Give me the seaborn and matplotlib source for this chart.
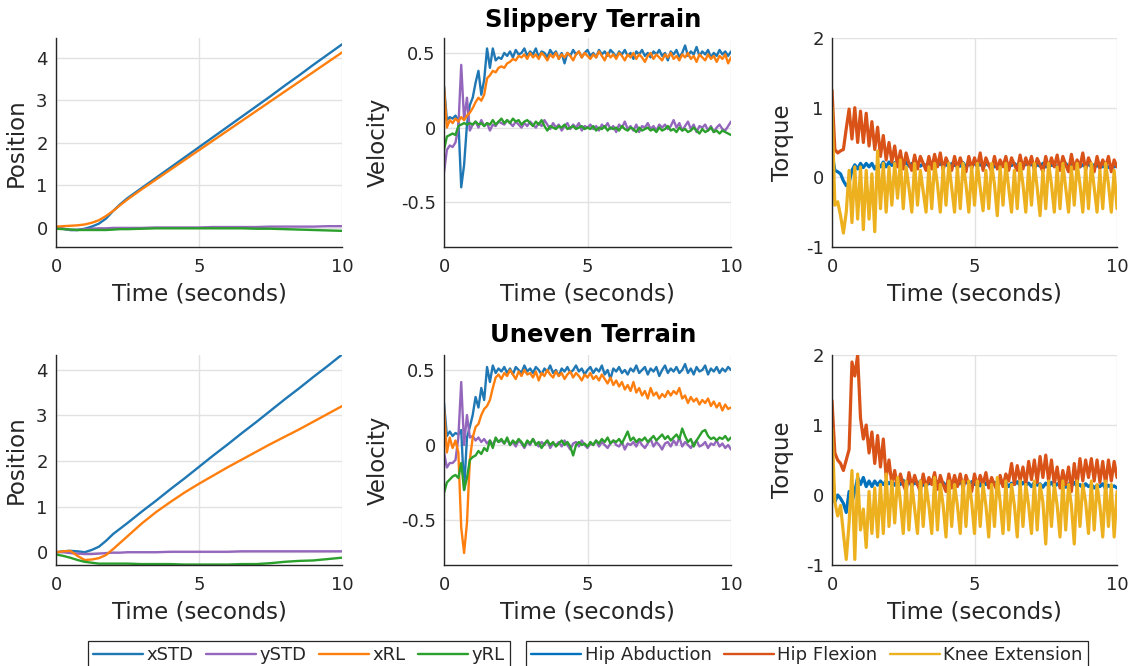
import numpy as np
import matplotlib
matplotlib.use("Agg")
import matplotlib.pyplot as plt
import seaborn as sns
from matplotlib.lines import Line2D

sns.set_theme(style="whitegrid")
plt.rcParams['font.family'] = ['DejaVu Sans']
plt.rcParams['axes.unicode_minus'] = False

# ---------------- data ----------------
titles = ["Slippery Terrain", "Uneven Terrain"]
state_names = ["xSTD", "ySTD", "xRL", "yRL"]
torque_names = ["Hip Abduction", "Hip Flexion", "Knee Extension"]
x_label = "Time (seconds)"
y_labels = ["Position", "Velocity", "Torque"]
x_ticks = [0, 5, 10]
pos_ticks = [0, 1, 2, 3, 4]
vel_ticks = [-0.5, 0, 0.5]
trq_ticks = [-1, 0, 1, 2]

t_pos = [0, 0.25, 0.5, 0.75, 1.0, 1.25, 1.5, 1.75, 2.0, 2.25, 2.5, 3.0, 3.5, 4.0,
         4.5, 5.0, 5.5, 6.0, 6.5, 7.0, 7.5, 8.0, 8.5, 9.0, 9.5, 10.0]

# Slippery positions
px_std_s = [0.00, -0.02, -0.05, -0.05, -0.02, 0.03, 0.10, 0.22, 0.40, 0.56, 0.70, 0.94, 1.18,
            1.42, 1.66, 1.90, 2.14, 2.38, 2.62, 2.86, 3.10, 3.35, 3.59, 3.84, 4.08, 4.32]
py_std_s = [0.00, -0.02, -0.05, -0.05, -0.03, -0.02, -0.01, -0.01, 0.00, 0.00, 0.00, 0.00, 0.01,
            0.01, 0.01, 0.01, 0.02, 0.02, 0.02, 0.02, 0.03, 0.03, 0.03, 0.03, 0.04, 0.04]
px_rl_s = [0.03, 0.04, 0.05, 0.06, 0.08, 0.12, 0.18, 0.28, 0.40, 0.54, 0.67, 0.91, 1.14,
           1.37, 1.60, 1.83, 2.06, 2.29, 2.52, 2.75, 2.98, 3.21, 3.44, 3.67, 3.90, 4.13]
py_rl_s = [-0.02, -0.03, -0.04, -0.05, -0.05, -0.05, -0.05, -0.05, -0.04, -0.03, -0.03, -0.02, -0.01,
           -0.01, -0.01, -0.01, -0.01, -0.01, -0.01, -0.02, -0.02, -0.03, -0.04, -0.05, -0.06, -0.07]

# Uneven positions
px_std_u = [0.00, 0.02, 0.03, 0.02, 0.00, 0.05, 0.12, 0.25, 0.40, 0.52, 0.64, 0.89, 1.13,
            1.38, 1.62, 1.87, 2.12, 2.36, 2.61, 2.85, 3.10, 3.35, 3.59, 3.84, 4.08, 4.33]
py_std_u = [0.00, 0.00, -0.02, -0.03, -0.04, -0.04, -0.03, -0.02, -0.01, -0.01, 0.00, 0.00, 0.00,
            0.01, 0.01, 0.01, 0.01, 0.01, 0.02, 0.02, 0.02, 0.02, 0.02, 0.02, 0.02, 0.02]
px_rl_u = [0.00, 0.02, 0.03, -0.08, -0.17, -0.16, -0.13, -0.06, 0.07, 0.21, 0.35, 0.63, 0.88,
           1.10, 1.31, 1.50, 1.68, 1.86, 2.03, 2.20, 2.37, 2.53, 2.69, 2.86, 3.03, 3.20]
py_rl_u = [-0.05, -0.08, -0.12, -0.17, -0.21, -0.23, -0.25, -0.25, -0.25, -0.25, -0.25, -0.26, -0.26,
           -0.26, -0.27, -0.27, -0.27, -0.27, -0.26, -0.26, -0.24, -0.21, -0.19, -0.18, -0.15, -0.12]

# Velocities, sampled every 0.1 s from 0 to 10 s
vx_std_s = [0.28, 0.05, 0.07, 0.06, 0.08, 0.05, -0.40, -0.25, 0.02, 0.15,
            0.20, 0.30, 0.38, 0.22, 0.32, 0.53, 0.40, 0.53, 0.45, 0.47,
            0.46, 0.50, 0.48, 0.51, 0.47, 0.52, 0.49, 0.50, 0.53, 0.48,
            0.51, 0.49, 0.53, 0.47, 0.51, 0.50, 0.47, 0.52, 0.49, 0.51,
            0.46, 0.50, 0.43, 0.50, 0.48, 0.52, 0.49, 0.51, 0.47, 0.50,
            0.52, 0.48, 0.50, 0.47, 0.52, 0.49, 0.51, 0.48, 0.52, 0.50,
            0.47, 0.51, 0.49, 0.52, 0.48, 0.50, 0.46, 0.51, 0.49, 0.52,
            0.48, 0.50, 0.47, 0.51, 0.49, 0.52, 0.48, 0.50, 0.45, 0.51,
            0.49, 0.52, 0.47, 0.50, 0.55, 0.48, 0.51, 0.49, 0.54, 0.48,
            0.51, 0.49, 0.52, 0.47, 0.50, 0.48, 0.52, 0.49, 0.51, 0.48, 0.51]
vy_std_s = [-0.30, -0.15, -0.12, -0.13, -0.10, 0.00, 0.42, 0.05, 0.20, -0.02,
            0.02, 0.04, 0.00, 0.05, 0.01, 0.03, -0.02, 0.02, 0.01, 0.04,
            0.03, 0.02, 0.05, 0.03, 0.01, 0.04, 0.02, 0.00, 0.03, 0.01,
            0.04, 0.02, 0.00, 0.03, 0.01, 0.05, 0.02, -0.01, 0.03, 0.00,
            0.02, -0.02, 0.01, 0.03, -0.01, 0.02, 0.00, 0.03, -0.02, 0.01,
            0.00, 0.02, -0.01, 0.01, -0.02, 0.02, 0.00, 0.03, -0.01, 0.01,
            -0.03, 0.02, 0.00, 0.04, -0.01, 0.01, -0.02, 0.02, -0.03, 0.01,
            0.00, 0.03, -0.01, 0.01, -0.02, 0.02, 0.00, 0.02, -0.01, 0.01,
            0.05, 0.00, 0.03, -0.02, 0.01, 0.04, -0.01, 0.02, -0.03, 0.01,
            0.00, 0.02, -0.02, 0.01, -0.03, 0.00, 0.02, -0.01, -0.02, 0.01, 0.04]
vx_rl_s = [0.27, 0.00, 0.05, 0.03, 0.06, 0.04, 0.07, 0.05, 0.08, 0.10,
           0.13, 0.17, 0.20, 0.18, 0.22, 0.33, 0.35, 0.38, 0.37, 0.40,
           0.41, 0.40, 0.43, 0.44, 0.46, 0.45, 0.48, 0.47, 0.49, 0.46,
           0.50, 0.47, 0.49, 0.46, 0.50, 0.48, 0.45, 0.49, 0.47, 0.50,
           0.46, 0.49, 0.47, 0.50, 0.48, 0.45, 0.49, 0.51, 0.47, 0.50,
           0.48, 0.46, 0.49, 0.47, 0.51, 0.48, 0.45, 0.50, 0.47, 0.49,
           0.46, 0.50, 0.48, 0.45, 0.49, 0.47, 0.50, 0.46, 0.49, 0.47,
           0.44, 0.48, 0.50, 0.46, 0.49, 0.47, 0.45, 0.49, 0.47, 0.50,
           0.46, 0.48, 0.45, 0.49, 0.47, 0.50, 0.46, 0.48, 0.44, 0.49,
           0.47, 0.45, 0.49, 0.46, 0.48, 0.44, 0.48, 0.46, 0.49, 0.43, 0.47]
vy_rl_s = [-0.15, -0.06, -0.05, -0.04, -0.05, 0.01, 0.02, 0.03, 0.02, 0.03,
           0.02, 0.04, 0.02, 0.03, 0.01, 0.03, 0.02, 0.05, 0.02, 0.04,
           0.06, 0.03, 0.05, 0.03, 0.06, 0.04, 0.05, 0.02, 0.04, 0.05,
           0.03, 0.01, 0.04, 0.02, 0.05, 0.01, -0.02, 0.01, 0.00, -0.01,
           0.01, 0.00, 0.02, -0.01, 0.00, 0.01, -0.01, 0.00, 0.01, -0.01,
           0.00, -0.01, 0.01, -0.02, 0.00, -0.01, 0.01, -0.02, 0.00, -0.01,
           0.00, -0.02, 0.01, -0.01, -0.02, 0.00, -0.01, -0.03, 0.00, -0.02,
           -0.01, 0.00, -0.02, -0.01, -0.03, 0.00, -0.02, -0.01, 0.01, -0.02,
           -0.01, -0.03, 0.00, -0.02, -0.01, -0.03, -0.02, 0.00, -0.02, -0.04,
           -0.01, -0.03, -0.02, 0.00, -0.03, -0.02, -0.04, -0.02, -0.03, -0.04, -0.05]

vx_std_u = [0.28, 0.06, 0.09, 0.06, 0.08, 0.07, 0.10, -0.30, 0.05, 0.12,
            0.20, 0.32, 0.25, 0.38, 0.30, 0.52, 0.42, 0.53, 0.48, 0.51,
            0.49, 0.52, 0.48, 0.51, 0.47, 0.52, 0.50, 0.48, 0.53, 0.49,
            0.51, 0.48, 0.52, 0.50, 0.47, 0.51, 0.49, 0.53, 0.48, 0.50,
            0.46, 0.51, 0.49, 0.52, 0.48, 0.50, 0.53, 0.49, 0.51, 0.47,
            0.50, 0.52, 0.48, 0.51, 0.49, 0.53, 0.47, 0.50, 0.44, 0.51,
            0.49, 0.52, 0.48, 0.50, 0.47, 0.51, 0.49, 0.53, 0.48, 0.50,
            0.52, 0.47, 0.51, 0.49, 0.52, 0.46, 0.50, 0.53, 0.48, 0.51,
            0.49, 0.52, 0.48, 0.50, 0.54, 0.48, 0.51, 0.47, 0.52, 0.49,
            0.50, 0.53, 0.47, 0.51, 0.49, 0.52, 0.48, 0.51, 0.49, 0.52, 0.50]
vy_std_u = [-0.05, -0.15, -0.12, -0.12, -0.10, 0.05, 0.42, 0.00, 0.20, 0.05,
            0.06, 0.03, 0.05, 0.02, 0.04, 0.01, 0.03, 0.00, 0.04, 0.02,
            0.03, 0.01, 0.04, 0.00, 0.02, -0.01, 0.03, 0.01, -0.02, 0.02,
            0.00, 0.04, 0.01, -0.01, 0.02, 0.00, 0.03, -0.02, 0.01, 0.00,
            0.02, -0.01, 0.03, 0.00, -0.03, 0.01, 0.02, -0.01, 0.03, 0.00,
            -0.02, 0.01, 0.00, 0.03, -0.01, 0.02, 0.00, -0.02, 0.01, 0.03,
            0.00, -0.01, 0.02, -0.03, 0.01, 0.00, 0.02, -0.01, 0.03, 0.00,
            -0.02, 0.01, 0.04, -0.01, 0.02, 0.00, -0.03, 0.01, 0.02, -0.01,
            0.03, 0.00, 0.05, -0.01, 0.02, 0.00, -0.02, 0.01, 0.03, -0.01,
            0.00, 0.02, -0.02, 0.01, 0.00, 0.03, -0.01, 0.01, -0.02, 0.00, -0.03]
vx_rl_u = [0.25, -0.05, 0.05, -0.02, 0.03, -0.05, -0.55, -0.72, -0.52, -0.10,
           0.05, 0.12, 0.14, 0.20, 0.24, 0.26, 0.30, 0.38, 0.45, 0.47,
           0.44, 0.48, 0.46, 0.50, 0.47, 0.44, 0.49, 0.46, 0.50, 0.47,
           0.48, 0.45, 0.49, 0.43, 0.48, 0.46, 0.50, 0.47, 0.45, 0.49,
           0.46, 0.48, 0.44, 0.47, 0.49, 0.45, 0.48, 0.46, 0.43, 0.47,
           0.45, 0.48, 0.44, 0.46, 0.43, 0.47, 0.44, 0.41, 0.45, 0.40,
           0.43, 0.39, 0.42, 0.37, 0.40, 0.36, 0.42, 0.35, 0.38, 0.33,
           0.36, 0.31, 0.38, 0.33, 0.35, 0.31, 0.34, 0.32, 0.36, 0.33,
           0.36, 0.34, 0.38, 0.31, 0.33, 0.28, 0.32, 0.29, 0.31, 0.27,
           0.30, 0.28, 0.31, 0.26, 0.29, 0.25, 0.28, 0.23, 0.27, 0.24, 0.25]
vy_rl_u = [-0.32, -0.25, -0.23, -0.21, -0.20, -0.22, -0.12, -0.30, -0.22, -0.10,
           -0.08, -0.07, -0.04, -0.06, -0.02, -0.04, 0.03, -0.02, 0.05, 0.02,
           0.04, 0.01, 0.05, 0.00, 0.03, 0.01, 0.04, 0.02, -0.01, 0.03,
           0.01, 0.04, 0.00, 0.02, -0.02, 0.01, 0.03, 0.00, 0.02, -0.01,
           0.01, 0.03, 0.00, 0.02, -0.01, -0.07, 0.00, 0.02, 0.00, 0.01,
           -0.01, 0.02, 0.00, 0.03, 0.01, 0.04, 0.02, 0.05, 0.01, 0.03,
           0.02, 0.04, 0.01, 0.05, 0.09, 0.03, 0.05, 0.02, 0.04, 0.03,
           0.05, 0.02, 0.04, 0.06, 0.03, 0.05, 0.07, 0.04, 0.06, 0.03,
           0.05, 0.07, 0.04, 0.11, 0.06, 0.02, 0.04, -0.01, 0.03, 0.06,
           0.09, 0.10, 0.06, 0.04, 0.05, 0.03, 0.05, 0.04, 0.06, 0.03, 0.05]

# Torques, sampled every 0.1 s from 0 to 10 s
ta_s = [0.35, 0.10, 0.08, 0.05, -0.05, -0.12, -0.08, 0.10, 0.18, 0.12,
        0.20, 0.14, 0.20, 0.15, 0.20, 0.12, 0.18, 0.15, 0.22, 0.15,
        0.22, 0.17, 0.21, 0.16, 0.20, 0.18, 0.22, 0.16, 0.20, 0.17,
        0.21, 0.16, 0.19, 0.17, 0.21, 0.15, 0.19, 0.17, 0.20, 0.16,
        0.19, 0.15, 0.20, 0.17, 0.19, 0.16, 0.21, 0.15, 0.19, 0.17,
        0.20, 0.16, 0.19, 0.15, 0.20, 0.17, 0.19, 0.15, 0.18, 0.16,
        0.20, 0.15, 0.19, 0.17, 0.20, 0.16, 0.18, 0.15, 0.20, 0.17,
        0.19, 0.15, 0.18, 0.16, 0.20, 0.15, 0.19, 0.17, 0.18, 0.15,
        0.19, 0.16, 0.20, 0.15, 0.18, 0.16, 0.19, 0.15, 0.18, 0.16,
        0.19, 0.15, 0.18, 0.16, 0.20, 0.15, 0.18, 0.14, 0.17, 0.15, 0.16]
tf_s = [1.25, 0.40, 0.35, 0.38, 0.40, 0.70, 0.98, 0.55, 1.00, 0.50,
        0.95, 0.50, 0.92, 0.45, 0.80, 0.40, 0.72, 0.30, 0.60, 0.25,
        0.50, 0.22, 0.45, 0.15, 0.38, 0.12, 0.35, 0.20, 0.10, 0.32,
        0.12, 0.30, 0.20, 0.10, 0.30, 0.12, 0.33, 0.15, 0.35, 0.10,
        0.28, 0.18, 0.10, 0.30, 0.12, 0.28, 0.15, 0.08, 0.30, 0.12,
        0.28, 0.15, 0.35, 0.10, 0.28, 0.18, 0.08, 0.30, 0.12, 0.25,
        0.15, 0.30, 0.10, 0.28, 0.18, 0.10, 0.32, 0.12, 0.28, 0.15,
        0.30, 0.10, 0.27, 0.18, 0.08, 0.30, 0.12, 0.28, 0.15, 0.32,
        0.10, 0.30, 0.18, 0.08, 0.33, 0.12, 0.25, 0.15, 0.35, 0.10,
        0.28, 0.18, 0.08, 0.30, 0.12, 0.25, 0.15, 0.30, 0.08, 0.25, 0.15]
tk_s = [1.00, -0.40, -0.35, -0.55, -0.80, -0.50, 0.10, -0.65, 0.15, -0.60,
        0.15, -0.75, 0.10, -0.60, 0.05, -0.78, 0.38, -0.45, 0.20, -0.50,
        0.15, -0.40, 0.20, -0.30, 0.25, -0.45, 0.15, -0.15, -0.50, 0.20,
        -0.40, 0.10, -0.20, -0.50, 0.15, -0.45, 0.20, -0.10, -0.50, 0.15,
        -0.40, 0.20, -0.15, -0.50, 0.15, -0.45, 0.20, -0.10, -0.50, 0.15,
        -0.40, 0.20, -0.15, -0.48, 0.10, -0.45, 0.20, -0.10, -0.55, 0.15,
        -0.40, 0.20, -0.15, -0.50, 0.10, -0.45, 0.20, -0.10, -0.50, 0.15,
        -0.40, 0.20, -0.15, -0.55, 0.10, -0.45, 0.20, -0.10, -0.50, 0.15,
        -0.45, 0.20, -0.15, -0.50, 0.15, -0.40, 0.20, -0.10, -0.50, 0.15,
        -0.45, 0.20, -0.15, -0.50, 0.10, -0.45, 0.20, -0.10, -0.50, 0.10, -0.45]

ta_u = [0.35, -0.10, 0.00, -0.05, -0.12, -0.25, 0.05, -0.10, 0.05, 0.25,
        0.15, 0.25, 0.12, 0.20, 0.12, 0.20, 0.14, 0.20, 0.15, 0.20,
        0.16, 0.20, 0.14, 0.19, 0.15, 0.21, 0.16, 0.19, 0.13, 0.18,
        0.15, 0.20, 0.14, 0.18, 0.16, 0.21, 0.14, 0.19, 0.15, 0.18,
        0.13, 0.19, 0.15, 0.20, 0.14, 0.18, 0.16, 0.21, 0.14, 0.19,
        0.15, 0.18, 0.13, 0.20, 0.15, 0.19, 0.14, 0.18, 0.16, 0.20,
        0.14, 0.18, 0.12, 0.17, 0.15, 0.19, 0.13, 0.18, 0.14, 0.17,
        0.12, 0.18, 0.14, 0.16, 0.11, 0.17, 0.13, 0.18, 0.12, 0.16,
        0.13, 0.17, 0.11, 0.16, 0.13, 0.18, 0.12, 0.15, 0.10, 0.16,
        0.12, 0.15, 0.10, 0.14, 0.12, 0.16, 0.09, 0.14, 0.11, 0.13, 0.10]
tf_u = [1.35, 0.60, 0.50, 0.45, 0.35, 0.50, 0.65, 1.90, 1.70, 2.00,
        1.10, 0.80, 1.00, 0.60, 0.90, 0.45, 0.85, 0.40, 0.80, 0.25,
        0.50, 0.15, 0.35, 0.10, 0.30, 0.15, 0.05, 0.32, 0.12, 0.28,
        0.15, 0.05, 0.30, 0.10, 0.25, 0.15, 0.32, 0.08, 0.28, 0.15,
        0.05, 0.30, 0.10, 0.28, 0.12, 0.30, 0.08, 0.28, 0.15, 0.05,
        0.30, 0.12, 0.28, 0.15, 0.32, 0.10, 0.25, 0.15, 0.05, 0.28,
        0.12, 0.30, 0.20, 0.45, 0.15, 0.42, 0.20, 0.40, 0.15, 0.48,
        0.22, 0.50, 0.18, 0.55, 0.25, 0.57, 0.20, 0.50, 0.15, 0.40,
        0.10, 0.35, 0.15, 0.40, 0.05, 0.45, 0.15, 0.52, 0.20, 0.50,
        0.25, 0.52, 0.20, 0.50, 0.18, 0.48, 0.15, 0.50, 0.20, 0.48, 0.25]
tk_u = [0.95, -0.10, -0.30, -0.15, -0.55, -0.92, -0.40, 0.35, -0.92, 0.30,
        -0.50, -0.20, -0.75, 0.05, -0.55, 0.10, -0.60, 0.15, -0.55, 0.30,
        -0.45, 0.20, -0.40, 0.25, -0.10, -0.55, 0.20, -0.50, 0.15, -0.20,
        -0.55, 0.20, -0.45, 0.15, -0.15, -0.55, 0.25, -0.50, 0.15, -0.15,
        -0.60, 0.20, -0.45, 0.15, -0.15, -0.55, 0.20, -0.45, 0.20, -0.10,
        -0.55, 0.20, -0.45, 0.15, -0.15, -0.60, 0.15, -0.45, 0.25, -0.10,
        -0.55, 0.20, -0.50, 0.15, -0.15, -0.60, 0.20, -0.45, 0.15, -0.15,
        -0.55, 0.20, -0.50, 0.15, -0.10, -0.70, 0.20, -0.45, 0.15, -0.15,
        -0.60, 0.20, -0.50, 0.15, -0.15, -0.70, 0.20, -0.45, 0.15, -0.10,
        -0.55, 0.20, -0.50, 0.15, -0.15, -0.60, 0.20, -0.45, 0.15, -0.60, 0.05]

# ---------------- styling ----------------
state_colors = ["#1f77b4", "#9467bd", "#ff7f0e", "#2ca02c"]
torque_colors = ["#0072BD", "#D95319", "#EDB120"]
DARK = "#262626"
GRID = "#e2e2e2"

W, H = 1131, 666
fig = plt.figure(figsize=(W / 100, H / 100), dpi=100)
fig.patch.set_facecolor("white")


def add_ax(x0, x1, y0, y1):
    return fig.add_axes([x0 / W, 1 - y1 / H, (x1 - x0) / W, (y1 - y0) / H])


def tvec(vals, step=0.1):
    return np.arange(len(vals)) * step


def style(ax, yticks, ylim, ylabel, ylab_x):
    ax.set_facecolor("white")
    ax.set_xlim(0, 10)
    ax.set_ylim(*ylim)
    ax.set_xticks(x_ticks)
    ax.set_xticklabels([f"{v:g}" for v in x_ticks])
    ax.set_yticks(yticks)
    ax.set_yticklabels([f"{v:g}" for v in yticks])
    ax.grid(True, color=GRID, linewidth=1.0)
    for s in ["top", "right"]:
        ax.spines[s].set_visible(False)
    for s in ["left", "bottom"]:
        ax.spines[s].set_visible(True)
        ax.spines[s].set_color(DARK)
        ax.spines[s].set_linewidth(1.0)
    ax.tick_params(axis="both", direction="in", length=3, width=0.8, color=DARK,
                   labelsize=13, labelcolor=DARK)
    ax.tick_params(axis="x", pad=8)
    ax.tick_params(axis="y", pad=6)
    ax.set_xlabel(x_label, fontsize=16.5, color=DARK, va="center")
    ax.xaxis.set_label_coords(0.5, -0.225)
    ax.set_ylabel(ylabel, fontsize=16.5, color=DARK, va="center")
    ax.yaxis.set_label_coords(ylab_x, 0.5)


def line(ax, t, v, c, lw):
    sns.lineplot(x=t, y=v, ax=ax, color=c, linewidth=lw, estimator=None,
                 sort=False, legend=False)


rows = [
    dict(y0=38, y1=247, pos=[px_std_s, py_std_s, px_rl_s, py_rl_s],
         vel=[vx_std_s, vy_std_s, vx_rl_s, vy_rl_s], trq=[ta_s, tf_s, tk_s],
         pos_lim=(-0.45, 4.47), title_base=26.5),
    dict(y0=355, y1=565, pos=[px_std_u, py_std_u, px_rl_u, py_rl_u],
         vel=[vx_std_u, vy_std_u, vx_rl_u, vy_rl_u], trq=[ta_u, tf_u, tk_u],
         pos_lim=(-0.28, 4.32), title_base=342),
]

for r, row in enumerate(rows):
    ax1 = add_ax(56, 342, row["y0"], row["y1"])
    ax2 = add_ax(444, 731, row["y0"], row["y1"])
    ax3 = add_ax(832, 1117, row["y0"], row["y1"])
    for v, c in zip(row["pos"], state_colors):
        line(ax1, t_pos, v, c, 1.7)
    for v, c in zip(row["vel"], state_colors):
        line(ax2, tvec(v), v, c, 1.7)
    for v, c in zip(row["trq"], torque_colors):
        line(ax3, tvec(v), v, c, 2.3)
    style(ax1, pos_ticks, row["pos_lim"], y_labels[0], -0.14)
    style(ax2, vel_ticks, (-0.8, 0.6), y_labels[1], -0.23)
    style(ax3, trq_ticks, (-1, 2), y_labels[2], -0.172)
    fig.text(593 / W, 1 - row["title_base"] / H, titles[r], ha="center", va="baseline",
             fontsize=17.5, fontweight="bold", color="black")

# ---------------- legends ----------------
leg_kw = dict(loc="upper left", frameon=True, fancybox=False, fontsize=13,
              handlelength=2.75, handletextpad=0.2, columnspacing=0.7,
              borderpad=0.3, borderaxespad=0, framealpha=1)
h1 = [Line2D([], [], color=c, lw=1.7) for c in state_colors]
l1 = fig.legend(h1, state_names, ncol=4, bbox_to_anchor=(88 / W, 1 - 641 / H), **leg_kw)
h2 = [Line2D([], [], color=c, lw=1.7) for c in torque_colors]
l2 = fig.legend(h2, torque_names, ncol=3, bbox_to_anchor=(526 / W, 1 - 641 / H), **leg_kw)
for lg in (l1, l2):
    lg.get_frame().set_edgecolor(DARK)
    lg.get_frame().set_linewidth(0.9)
    for tx in lg.get_texts():
        tx.set_color(DARK)

fig.savefig("out.png", dpi=100, facecolor="white")
